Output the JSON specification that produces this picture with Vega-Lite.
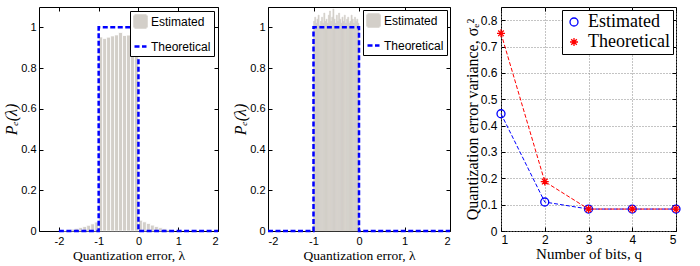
{
  "$schema": "https://vega.github.io/schema/vega-lite/v6.json",
  "padding": {"left": 3, "top": 6, "right": 0, "bottom": 0},
  "spacing": 7,
  "background": "white",
  "config": {
    "view": {"stroke": "black", "strokeWidth": 1},
    "axis": {
      "domain": false, "grid": false, "tickColor": "black", "tickSize": -4, "tickWidth": 1,
      "labelColor": "black", "titleColor": "black", "titleFontWeight": "normal",
      "labelFont": "Liberation Sans, sans-serif", "labelFontSize": 11,
      "titleFont": "Liberation Serif, serif"
    },
    "legend": {
      "orient": "top-right", "offset": 4, "title": null,
      "strokeColor": "black", "fillColor": "white", "padding": 4, "symbolOpacity": 1
    }
  },
  "resolve": {
    "scale": {"color": "independent", "shape": "independent", "strokeDash": "independent"},
    "legend": {"color": "independent", "shape": "independent", "strokeDash": "independent"}
  },
  "hconcat": [
    {
      "width": 179, "height": 224,
      "resolve": {"axis": {"x": "independent", "y": "independent"}},
      "layer": [
        {
          "data": {"values": [
            {"x0": -1.9, "x1": -1.8, "p": 0.002, "s": "Estimated"},
            {"x0": -1.8, "x1": -1.7, "p": 0.005, "s": "Estimated"},
            {"x0": -1.7, "x1": -1.6, "p": 0.009, "s": "Estimated"},
            {"x0": -1.6, "x1": -1.5, "p": 0.013, "s": "Estimated"},
            {"x0": -1.5, "x1": -1.4, "p": 0.017, "s": "Estimated"},
            {"x0": -1.4, "x1": -1.3, "p": 0.022, "s": "Estimated"},
            {"x0": -1.3, "x1": -1.2, "p": 0.028, "s": "Estimated"},
            {"x0": -1.2, "x1": -1.1, "p": 0.035, "s": "Estimated"},
            {"x0": -1.1, "x1": -1.0, "p": 0.044, "s": "Estimated"},
            {"x0": -1.0, "x1": -0.9, "p": 0.953, "s": "Estimated"},
            {"x0": -0.9, "x1": -0.8, "p": 0.945, "s": "Estimated"},
            {"x0": -0.8, "x1": -0.7, "p": 0.952, "s": "Estimated"},
            {"x0": -0.7, "x1": -0.6, "p": 0.958, "s": "Estimated"},
            {"x0": -0.6, "x1": -0.5, "p": 0.963, "s": "Estimated"},
            {"x0": -0.5, "x1": -0.4, "p": 0.975, "s": "Estimated"},
            {"x0": -0.4, "x1": -0.3, "p": 0.96, "s": "Estimated"},
            {"x0": -0.3, "x1": -0.2, "p": 0.962, "s": "Estimated"},
            {"x0": -0.2, "x1": -0.1, "p": 0.952, "s": "Estimated"},
            {"x0": -0.1, "x1": 0.0, "p": 0.93, "s": "Estimated"},
            {"x0": 0.0, "x1": 0.1, "p": 0.053, "s": "Estimated"},
            {"x0": 0.1, "x1": 0.2, "p": 0.045, "s": "Estimated"},
            {"x0": 0.2, "x1": 0.3, "p": 0.037, "s": "Estimated"},
            {"x0": 0.3, "x1": 0.4, "p": 0.029, "s": "Estimated"},
            {"x0": 0.4, "x1": 0.5, "p": 0.022, "s": "Estimated"},
            {"x0": 0.5, "x1": 0.6, "p": 0.016, "s": "Estimated"},
            {"x0": 0.6, "x1": 0.7, "p": 0.011, "s": "Estimated"},
            {"x0": 0.7, "x1": 0.8, "p": 0.007, "s": "Estimated"},
            {"x0": 0.8, "x1": 0.9, "p": 0.004, "s": "Estimated"}
          ]},
          "mark": {"type": "rect", "stroke": "white", "strokeWidth": 0.8},
          "encoding": {
            "x": {"field": "x0", "type": "quantitative", "scale": {"domain": [-2.5, 2], "nice": false},
                  "axis": {"values": [-2, -1, 0, 1, 2], "format": "~g", "labelExpr": "replace(datum.label, '−', '-')",
                           "title": "Quantization error, λ", "titleFontSize": 13.5, "labelPadding": 8, "titlePadding": 2}},
            "x2": {"field": "x1"},
            "y": {"field": "p", "type": "quantitative", "scale": {"domain": [0, 1.1], "nice": false},
                  "axis": {"values": [0, 0.2, 0.4, 0.6, 0.8, 1], "format": "~g", "title": "Pₑ(λ)",
                           "titleFontSize": 16, "titleFontStyle": "italic", "labelPadding": 7, "titlePadding": 1}},
            "y2": {"datum": 0},
            "color": {"field": "s", "type": "nominal",
                      "scale": {"domain": ["Estimated", "Theoretical"], "range": ["#d3cfc9", "#0000ff"]},
                      "legend": {
                        "labelFont": "Liberation Sans, sans-serif", "labelFontSize": 12,
                        "labelColor": "black", "symbolSize": 144, "symbolStrokeWidth": 2.5,
                        "rowPadding": 6, "labelOffset": 3, "padding": 3
                      }}
          }
        },
        {
          "data": {"values": [
            {"x": -2, "p": 0, "i": 0, "s": "Theoretical"},
            {"x": -1, "p": 0, "i": 1, "s": "Theoretical"},
            {"x": -1, "p": 1, "i": 2, "s": "Theoretical"},
            {"x": 0, "p": 1, "i": 3, "s": "Theoretical"},
            {"x": 0, "p": 0, "i": 4, "s": "Theoretical"},
            {"x": 2, "p": 0, "i": 5, "s": "Theoretical"}
          ]},
          "layer": [
            {
              "mark": {"type": "line", "strokeWidth": 2.5},
              "encoding": {
                "x": {"field": "x", "type": "quantitative",
                      "axis": {"orient": "top", "values": [-2, -1, 0, 1, 2], "labels": false, "title": null}},
                "y": {"field": "p", "type": "quantitative",
                      "axis": {"orient": "right", "values": [0, 0.2, 0.4, 0.6, 0.8, 1], "labels": false, "title": null}},
                "order": {"field": "i", "type": "quantitative"},
                "color": {"field": "s", "type": "nominal"},
                "strokeDash": {"field": "s", "type": "nominal",
                               "scale": {"domain": ["Estimated", "Theoretical"], "range": [[1, 0], [5, 2.5]]}}
              }
            },
            {
              "mark": {"type": "point", "size": 0, "opacity": 0},
              "encoding": {
                "x": {"field": "x", "type": "quantitative"},
                "y": {"field": "p", "type": "quantitative"},
                "shape": {"field": "s", "type": "nominal",
                          "scale": {"domain": ["Estimated", "Theoretical"], "range": ["square", "stroke"]}}
              }
            }
          ]
        }
      ]
    },
    {
      "width": 182, "height": 224,
      "resolve": {"axis": {"x": "independent", "y": "independent"}},
      "layer": [
        {
          "data": {"values": [
            {"x0": -1.0, "x1": -0.975, "p": 1.03, "s": "Estimated"},
            {"x0": -0.975, "x1": -0.95, "p": 1.05, "s": "Estimated"},
            {"x0": -0.95, "x1": -0.925, "p": 1.02, "s": "Estimated"},
            {"x0": -0.925, "x1": -0.9, "p": 1.04, "s": "Estimated"},
            {"x0": -0.9, "x1": -0.875, "p": 1.06, "s": "Estimated"},
            {"x0": -0.875, "x1": -0.85, "p": 1.01, "s": "Estimated"},
            {"x0": -0.85, "x1": -0.825, "p": 1.03, "s": "Estimated"},
            {"x0": -0.825, "x1": -0.8, "p": 1.05, "s": "Estimated"},
            {"x0": -0.8, "x1": -0.775, "p": 1.02, "s": "Estimated"},
            {"x0": -0.775, "x1": -0.75, "p": 1.07, "s": "Estimated"},
            {"x0": -0.75, "x1": -0.725, "p": 1.03, "s": "Estimated"},
            {"x0": -0.725, "x1": -0.7, "p": 1.04, "s": "Estimated"},
            {"x0": -0.7, "x1": -0.675, "p": 1.02, "s": "Estimated"},
            {"x0": -0.675, "x1": -0.65, "p": 1.06, "s": "Estimated"},
            {"x0": -0.65, "x1": -0.625, "p": 1.08, "s": "Estimated"},
            {"x0": -0.625, "x1": -0.6, "p": 1.03, "s": "Estimated"},
            {"x0": -0.6, "x1": -0.575, "p": 1.05, "s": "Estimated"},
            {"x0": -0.575, "x1": -0.55, "p": 1.09, "s": "Estimated"},
            {"x0": -0.55, "x1": -0.525, "p": 1.04, "s": "Estimated"},
            {"x0": -0.525, "x1": -0.5, "p": 1.02, "s": "Estimated"},
            {"x0": -0.5, "x1": -0.475, "p": 1.06, "s": "Estimated"},
            {"x0": -0.475, "x1": -0.45, "p": 1.03, "s": "Estimated"},
            {"x0": -0.45, "x1": -0.425, "p": 1.07, "s": "Estimated"},
            {"x0": -0.425, "x1": -0.4, "p": 1.04, "s": "Estimated"},
            {"x0": -0.4, "x1": -0.375, "p": 1.02, "s": "Estimated"},
            {"x0": -0.375, "x1": -0.35, "p": 1.05, "s": "Estimated"},
            {"x0": -0.35, "x1": -0.325, "p": 1.03, "s": "Estimated"},
            {"x0": -0.325, "x1": -0.3, "p": 1.06, "s": "Estimated"},
            {"x0": -0.3, "x1": -0.275, "p": 1.02, "s": "Estimated"},
            {"x0": -0.275, "x1": -0.25, "p": 1.04, "s": "Estimated"},
            {"x0": -0.25, "x1": -0.225, "p": 1.05, "s": "Estimated"},
            {"x0": -0.225, "x1": -0.2, "p": 1.02, "s": "Estimated"},
            {"x0": -0.2, "x1": -0.175, "p": 1.03, "s": "Estimated"},
            {"x0": -0.175, "x1": -0.15, "p": 1.06, "s": "Estimated"},
            {"x0": -0.15, "x1": -0.125, "p": 1.04, "s": "Estimated"},
            {"x0": -0.125, "x1": -0.1, "p": 1.02, "s": "Estimated"},
            {"x0": -0.1, "x1": -0.075, "p": 1.05, "s": "Estimated"},
            {"x0": -0.075, "x1": -0.05, "p": 1.03, "s": "Estimated"},
            {"x0": -0.05, "x1": -0.025, "p": 1.04, "s": "Estimated"},
            {"x0": -0.025, "x1": 0.0, "p": 1.02, "s": "Estimated"}
          ]},
          "mark": {"type": "rect", "stroke": "#d3cfc9", "strokeWidth": 0.5},
          "encoding": {
            "x": {"field": "x0", "type": "quantitative", "scale": {"domain": [-2, 2], "nice": false},
                  "axis": {"values": [-2, -1, 0, 1, 2], "format": "~g", "labelExpr": "replace(datum.label, '−', '-')",
                           "title": "Quantization error, λ", "titleFontSize": 13.5, "labelPadding": 8, "titlePadding": 2}},
            "x2": {"field": "x1"},
            "y": {"field": "p", "type": "quantitative", "scale": {"domain": [0, 1.1], "nice": false},
                  "axis": {"values": [0, 0.2, 0.4, 0.6, 0.8, 1], "format": "~g", "title": "Pₑ(λ)",
                           "titleFontSize": 16, "titleFontStyle": "italic", "labelPadding": 7,
                           "maxExtent": 20, "minExtent": 20, "titlePadding": 0}},
            "y2": {"datum": 0},
            "color": {"field": "s", "type": "nominal",
                      "scale": {"domain": ["Estimated", "Theoretical"], "range": ["#d3cfc9", "#0000ff"]},
                      "legend": {
                        "labelFont": "Liberation Sans, sans-serif", "labelFontSize": 12,
                        "labelColor": "black", "symbolSize": 144, "symbolStrokeWidth": 2.5,
                        "rowPadding": 6, "labelOffset": 3, "offset": 3, "padding": 3
                      }}
          }
        },
        {
          "data": {"values": [
            {"x": -2, "p": 0, "i": 0, "s": "Theoretical"},
            {"x": -1, "p": 0, "i": 1, "s": "Theoretical"},
            {"x": -1, "p": 1, "i": 2, "s": "Theoretical"},
            {"x": 0, "p": 1, "i": 3, "s": "Theoretical"},
            {"x": 0, "p": 0, "i": 4, "s": "Theoretical"},
            {"x": 2, "p": 0, "i": 5, "s": "Theoretical"}
          ]},
          "layer": [
            {
              "mark": {"type": "line", "strokeWidth": 2.5},
              "encoding": {
                "x": {"field": "x", "type": "quantitative",
                      "axis": {"orient": "top", "values": [-2, -1, 0, 1, 2], "labels": false, "title": null}},
                "y": {"field": "p", "type": "quantitative",
                      "axis": {"orient": "right", "values": [0, 0.2, 0.4, 0.6, 0.8, 1], "labels": false, "title": null}},
                "order": {"field": "i", "type": "quantitative"},
                "color": {"field": "s", "type": "nominal"},
                "strokeDash": {"field": "s", "type": "nominal",
                               "scale": {"domain": ["Estimated", "Theoretical"], "range": [[1, 0], [5, 2.5]]}}
              }
            },
            {
              "mark": {"type": "point", "size": 0, "opacity": 0},
              "encoding": {
                "x": {"field": "x", "type": "quantitative"},
                "y": {"field": "p", "type": "quantitative"},
                "shape": {"field": "s", "type": "nominal",
                          "scale": {"domain": ["Estimated", "Theoretical"], "range": ["square", "stroke"]}}
              }
            }
          ]
        }
      ]
    },
    {
      "width": 175, "height": 224,
      "resolve": {"axis": {"x": "independent", "y": "independent"}},
      "data": {"values": [
        {"q": 1, "v": 0.445, "s": "Estimated"},
        {"q": 2, "v": 0.11, "s": "Estimated"},
        {"q": 3, "v": 0.0833, "s": "Estimated"},
        {"q": 4, "v": 0.0833, "s": "Estimated"},
        {"q": 5, "v": 0.0833, "s": "Estimated"},
        {"q": 1, "v": 0.75, "s": "Theoretical"},
        {"q": 2, "v": 0.1875, "s": "Theoretical"},
        {"q": 3, "v": 0.0833, "s": "Theoretical"},
        {"q": 4, "v": 0.0833, "s": "Theoretical"},
        {"q": 5, "v": 0.0833, "s": "Theoretical"}
      ]},
      "layer": [
        {
          "mark": {"type": "line", "strokeDash": [4, 2], "strokeWidth": 1},
          "encoding": {
            "x": {"field": "q", "type": "quantitative", "scale": {"domain": [1, 5], "nice": false},
                  "axis": {"values": [1, 2, 3, 4, 5], "format": "d", "title": "Number of bits, q",
                           "grid": true, "gridDash": [1, 2], "gridColor": "#888",
                           "labelFont": "Liberation Sans, sans-serif", "labelFontSize": 12,
                           "titleFontSize": 15, "labelPadding": 7, "titlePadding": 1}},
            "y": {"field": "v", "type": "quantitative", "scale": {"domain": [0, 0.85], "nice": false},
                  "axis": {"values": [0, 0.1, 0.2, 0.3, 0.4, 0.5, 0.6, 0.7, 0.8], "format": "~g",
                           "title": "Quantization error variance, σₑ²",
                           "grid": true, "gridDash": [1, 2], "gridColor": "#888",
                           "labelFont": "Liberation Sans, sans-serif", "labelFontSize": 12,
                           "titleFontSize": 16, "labelPadding": 8, "maxExtent": 21, "minExtent": 21, "titlePadding": 0}},
            "color": {"field": "s", "type": "nominal",
                      "scale": {"domain": ["Estimated", "Theoretical"], "range": ["#0000ff", "#ff0000"]},
                      "legend": {
                        "labelFont": "Liberation Serif, serif", "labelFontSize": 18, "labelColor": "black",
                        "symbolSize": 64, "symbolStrokeWidth": 1.3, "symbolFillColor": "transparent",
                        "rowPadding": 2, "labelOffset": 5, "offset": 3, "padding": 3
                      }}
          }
        },
        {
          "mark": {"type": "point", "filled": false, "size": 64, "strokeWidth": 1.3, "opacity": 1},
          "encoding": {
            "x": {"field": "q", "type": "quantitative",
                  "axis": {"orient": "top", "values": [1, 2, 3, 4, 5], "labels": false, "title": null, "grid": false}},
            "y": {"field": "v", "type": "quantitative",
                  "axis": {"orient": "right", "values": [0, 0.1, 0.2, 0.3, 0.4, 0.5, 0.6, 0.7, 0.8], "labels": false, "title": null, "grid": false}},
            "color": {"field": "s", "type": "nominal"},
            "shape": {"field": "s", "type": "nominal",
                      "scale": {"domain": ["Estimated", "Theoretical"], "range": ["circle", "M-1,0L1,0M0,-1L0,1M-0.7,-0.7L0.7,0.7M-0.7,0.7L0.7,-0.7"]}}
          }
        }
      ]
    }
  ]
}
